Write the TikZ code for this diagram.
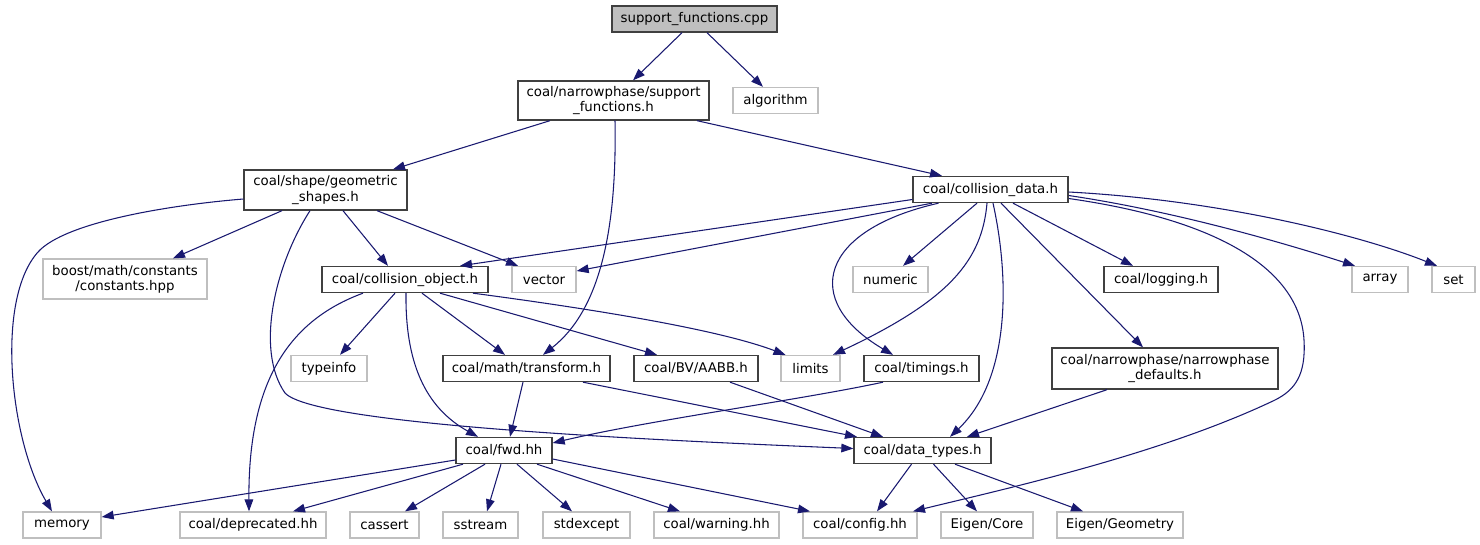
\documentclass[tikz,border=0pt]{standalone}
\usepackage{fontspec}
\setmainfont{DejaVu Sans}
\usetikzlibrary{arrows.meta,calc}
\definecolor{edgec}{HTML}{191970}
\definecolor{docb}{HTML}{404040}
\definecolor{extb}{HTML}{BFBFBF}
\begin{document}
\begin{tikzpicture}[x=0.75pt,y=-0.75pt,
  bw/.style={minimum width=#1*0.75pt},
  bh/.style={minimum height=#1*0.75pt},
  basebox/.style={rectangle,line width=1pt,inner sep=0pt,minimum height=19.5pt,
    font=\fontsize{10}{11.5}\selectfont,align=center,text=black,fill=white},
  doc/.style={basebox,draw=docb},
  ext/.style={basebox,draw=extb},
  root/.style={basebox,draw=docb,fill=extb},
  e/.style={draw=edgec,line width=0.8pt,-{Triangle[length=9pt,width=6.5pt]}}]
\useasboundingbox (0,0) rectangle (1480,544);

\node[root,bw=165] (cpp) at (694.5,19) {support\_functions.cpp};
\node[doc,bw=191,bh=39] (sfh) at (613.5,100.5) {coal/narrowphase/support\\\_functions.h};
\node[ext,bw=85] (alg) at (775.5,100.5) {algorithm};
\node[doc,bw=163,bh=40] (geom) at (325.5,190) {coal/shape/geometric\\\_shapes.h};
\node[doc,bw=155] (cdata) at (990.5,189.5) {coal/collision\_data.h};
\node[ext,bw=164,bh=40] (boost) at (125,279) {boost/math/constants\\/constants.hpp};
\node[doc,bw=166] (cobj) at (405,279.5) {coal/collision\_object.h};
\node[ext,bw=64] (vector) at (544,279.5) {vector};
\node[ext,bw=75] (numeric) at (890.5,279.5) {numeric};
\node[doc,bw=114] (logging) at (1161,279.5) {coal/logging.h};
\node[ext,bw=56] (array) at (1380,279.5) {array};
\node[ext,bw=43] (set) at (1453.5,279.5) {set};
\node[ext,bw=76] (typeinfo) at (329,368.5) {typeinfo};
\node[doc,bw=167] (transform) at (526.5,368.5) {coal/math/transform.h};
\node[doc,bw=124] (aabb) at (696,368.5) {coal/BV/AABB.h};
\node[ext,bw=59] (limits) at (810.5,368.5) {limits};
\node[doc,bw=115] (timings) at (921.5,368.5) {coal/timings.h};
\node[doc,bw=226,bh=41] (defaults) at (1165,368.5) {coal/narrowphase/narrowphase\\\_defaults.h};
\node[doc,bw=96] (fwd) at (504,450.5) {coal/fwd.hh};
\node[doc,bw=137] (dtypes) at (922.5,450.5) {coal/data\_types.h};
\node[ext,bw=78] (memory) at (62,525) {memory};
\node[ext,bw=146] (deprecated) at (253,525) {coal/deprecated.hh};
\node[ext,bw=69] (cassert) at (384.5,525) {cassert};
\node[ext,bw=75] (sstream) at (480.5,525) {sstream};
\node[ext,bw=87] (stdexcept) at (586.5,525) {stdexcept};
\node[ext,bw=125] (warning) at (716.5,525) {coal/warning.hh};
\node[ext,bw=114] (config) at (860,525) {coal/config.hh};
\node[ext,bw=92] (eigencore) at (987,525) {Eigen/Core};
\node[ext,bw=126] (eigengeom) at (1120,525) {Eigen/Geometry};

% edges
\draw[e] ($(cpp.south)+(-12.5,0)$) -- ($(sfh.north)+(19.5,0)$);
\draw[e] ($(cpp.south)+(12.5,0)$) -- ($(alg.north)+(-12.5,0)$);
\draw[e] ($(sfh.south)+(-63.5,0)$) -- ($(geom.north)+(67.5,0)$);
\draw[e] ($(sfh.south)+(83.5,0)$) -- ($(cdata.north)+(-48.5,0)$);
\draw[e] ($(sfh.south)+(1.5,0)$) .. controls (617,230) and (600,310) .. ($(transform.north)+(16.5,0)$);

\draw[e] ($(geom.west)+(0,9)$) .. controls (170,205) and (65,222) .. (38,252) .. controls (-5,300) and (10,440) .. ($(memory.north)+(-10,0)$);
\draw[e] ($(geom.south)+(-43.5,0)$) -- ($(boost.north)+(48,0)$);
\draw[e] ($(geom.south)+(17.5,0)$) -- ($(cobj.north)+(-17,0)$);
\draw[e] ($(geom.south)+(51.5,0)$) -- ($(vector.north)+(-26,0)$);
\draw[e] ($(geom.south)+(-15.5,0)$) .. controls (275,265) and (255,350) .. (285,393) .. controls (315,425) and (650,440) .. ($(dtypes.west)+(0,-2)$);

\draw[e] ($(cdata.west)+(0,10)$) -- ($(cobj.north)+(55,0)$);
\draw[e] ($(cdata.south)+(-58.5,0)$) -- ($(vector.east)+(0,-8.5)$);
\draw[e] ($(cdata.south)+(-13.5,0)$) -- ($(numeric.north)+(12.5,0)$);
\draw[e] ($(cdata.south)+(-3.5,0)$) .. controls (982,260) and (950,300) .. ($(limits.north)+(22.5,0)$);
\draw[e] ($(cdata.south)+(-52,0)$) .. controls (820,230) and (800,300) .. ($(timings.north)+(-28.5,0)$);
\draw[e] ($(cdata.south)+(2.5,0)$) .. controls (1010,280) and (1010,380) .. ($(dtypes.north)+(27.5,0)$);
\draw[e] ($(cdata.south)+(22.5,0)$) -- ($(logging.north)+(-28,0)$);
\draw[e] ($(cdata.south)+(10.5,0)$) -- ($(defaults.north)+(-22,0)$);
\draw[e] ($(cdata.east)+(0,9)$) .. controls (1220,220) and (1300,270) .. (1304,340) .. controls (1306,375) and (1295,390) .. (1275,400) .. controls (1160,455) and (1000,490) .. ($(config.north)+(53,0)$);
\draw[e] ($(cdata.east)+(0,6)$) .. controls (1180,212) and (1290,245) .. ($(array.north)+(-25,0)$);
\draw[e] ($(cdata.east)+(0,2.5)$) .. controls (1220,200) and (1360,235) .. ($(set.north)+(-16.5,0)$);

\draw[e] ($(cobj.south)+(-10,0)$) -- ($(typeinfo.north)+(11,0)$);
\draw[e] ($(cobj.south)+(-42,0)$) .. controls (290,320) and (248,380) .. ($(deprecated.north)+(-4,0)$);
\draw[e] ($(cobj.south)+(1,0)$) .. controls (405,370) and (430,410) .. ($(fwd.north)+(-26,0)$);
\draw[e] ($(cobj.south)+(17,0)$) -- ($(transform.north)+(-21.5,0)$);
\draw[e] ($(cobj.south)+(35,0)$) -- ($(aabb.north)+(-39,0)$);
\draw[e] ($(cobj.south)+(68,0)$) .. controls (600,310) and (720,330) .. ($(limits.north)+(-25,0)$);

\draw[e] ($(transform.south)+(-3.5,0)$) -- ($(fwd.north)+(6,0)$);
\draw[e] ($(transform.south)+(56.5,0)$) -- ($(dtypes.north)+(-65.5,0)$);
\draw[e] ($(aabb.south)+(34,0)$) -- ($(dtypes.north)+(-39.5,0)$);
\draw[e] ($(timings.south)+(-38.5,0)$) .. controls (800,400) and (650,420) .. ($(fwd.east)+(0,-7.5)$);
\draw[e] ($(defaults.south)+(-58,0)$) -- ($(dtypes.north)+(44.5,0)$);

\draw[e] ($(fwd.west)+(0,9.5)$) -- ($(memory.east)+(0,-8)$);
\draw[e] ($(fwd.south)+(-41,0)$) -- ($(deprecated.north)+(40,0)$);
\draw[e] ($(fwd.south)+(-19,0)$) -- ($(cassert.north)+(20.5,0)$);
\draw[e] ($(fwd.south)+(-3,0)$) -- ($(sstream.north)+(6.5,0)$);
\draw[e] ($(fwd.south)+(13,0)$) -- ($(stdexcept.north)+(-14.5,0)$);
\draw[e] ($(fwd.south)+(33,0)$) -- ($(warning.north)+(-36.5,0)$);
\draw[e] ($(fwd.east)+(0,8.5)$) -- ($(config.north)+(-50,0)$);

\draw[e] ($(dtypes.south)+(-11,0)$) -- ($(config.north)+(17,0)$);
\draw[e] ($(dtypes.south)+(11,0)$) -- ($(eigencore.north)+(-10,0)$);
\draw[e] ($(dtypes.south)+(32.5,0)$) -- ($(eigengeom.north)+(-37,0)$);
\end{tikzpicture}
\end{document}
